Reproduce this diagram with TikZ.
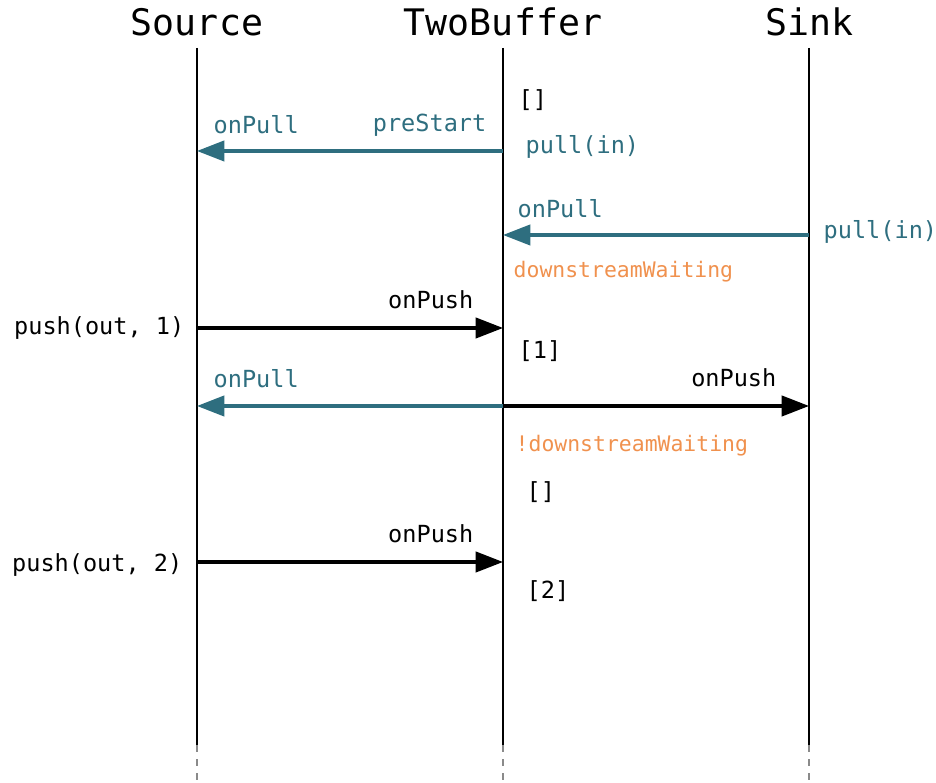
\documentclass[tikz,border=0pt]{standalone}
\usepackage{fontspec}
\setmainfont{DejaVu Sans Mono}
\usetikzlibrary{arrows.meta}
\definecolor{FlowTeal}{HTML}{2E6E7F}
\definecolor{FlowOrange}{HTML}{F0914E}
\definecolor{FlowGrey}{HTML}{8A8A8A}

\begin{document}
\begin{tikzpicture}[x=1cm,y=1cm,
  lifeline/.style={line width=.75pt},
  lifetail/.style={FlowGrey,line width=.75pt,dash pattern=on 2pt off 2pt},
  title/.style={inner sep=0pt,font=\fontsize{10.4}{12}\selectfont},
  lbl/.style={inner sep=0pt,font=\fontsize{6.7}{8}\selectfont},
  cond/.style={inner sep=0pt,text=FlowOrange,font=\fontsize{6.1}{7}\selectfont},
  msg/.style={line width=.9pt,-{Triangle[length=7.8pt,width=5.8pt]}},
  pullmsg/.style={msg,FlowTeal}]
\path[use as bounding box] (0,0) rectangle (9.36,7.83);
% lifelines
\node[title] (src) at (1.97,7.61) {Source};
\node[title] (buf) at (5.03,7.61) {TwoBuffer};
\node[title] (snk) at (8.09,7.61) {Sink};
\coordinate (srcTop) at (1.97,7.35);
\coordinate (bufTop) at (5.03,7.35);
\coordinate (snkTop) at (8.09,7.35);
\coordinate (srcEnd) at (1.97,0.38);
\coordinate (bufEnd) at (5.03,0.38);
\coordinate (snkEnd) at (8.09,0.38);
\coordinate (srcFoot) at (1.97,0);
\coordinate (bufFoot) at (5.03,0);
\coordinate (snkFoot) at (8.09,0);
\draw[lifeline] (srcTop) -- (srcEnd);
\draw[lifeline] (bufTop) -- (bufEnd);
\draw[lifeline] (snkTop) -- (snkEnd);
\draw[lifetail] (srcEnd) -- (srcFoot);
\draw[lifetail] (bufEnd) -- (bufFoot);
\draw[lifetail] (snkEnd) -- (snkFoot);
% message points on the lifelines
\coordinate (bufA) at (5.03,6.32);
\coordinate (srcA) at (1.97,6.32);
\coordinate (snkB) at (8.09,5.48);
\coordinate (bufB) at (5.03,5.48);
\coordinate (srcC) at (1.97,4.55);
\coordinate (bufC) at (5.03,4.55);
\coordinate (bufD) at (5.03,3.77);
\coordinate (srcD) at (1.97,3.77);
\coordinate (snkD) at (8.09,3.77);
\coordinate (srcE) at (1.97,2.21);
\coordinate (bufE) at (5.03,2.21);
% buffer start
\node[lbl,anchor=west] (empty1) at (5.18,6.83) {[]};
\node[lbl,anchor=west,text=FlowTeal] (onPullA) at (2.13,6.58) {onPull};
\node[lbl,anchor=east,text=FlowTeal] (preStart) at (4.87,6.58) {preStart};
\node[lbl,anchor=west,text=FlowTeal] (pullA) at (5.25,6.36) {pull(in)};
\draw[pullmsg] (bufA) -- (srcA);
% sink pulls
\node[lbl,anchor=west,text=FlowTeal] (onPullB) at (5.17,5.74) {onPull};
\node[lbl,anchor=west,text=FlowTeal] (pullB) at (8.23,5.51) {pull(in)};
\draw[pullmsg] (snkB) -- (bufB);
\node[cond,anchor=west] (waiting) at (5.13,5.11) {downstreamWaiting};
% first element
\node[lbl,anchor=east] (onPushC) at (4.74,4.83) {onPush};
\node[lbl,anchor=east] (pushOne) at (1.85,4.55) {push(out, 1)};
\draw[msg] (srcC) -- (bufC);
\node[lbl,anchor=west] (one) at (5.18,4.32) {[1]};
\node[lbl,anchor=west,text=FlowTeal] (onPullD) at (2.13,4.04) {onPull};
\node[lbl,anchor=east] (onPushD) at (7.77,4.05) {onPush};
\draw[pullmsg] (bufD) -- (srcD);
\draw[msg] (bufD) -- (snkD);
\node[cond,anchor=west] (notWaiting) at (5.15,3.37) {!downstreamWaiting};
\node[lbl,anchor=west] (empty2) at (5.26,2.91) {[]};
% second element
\node[lbl,anchor=east] (onPushE) at (4.74,2.49) {onPush};
\node[lbl,anchor=east] (pushTwo) at (1.83,2.18) {push(out, 2)};
\draw[msg] (srcE) -- (bufE);
\node[lbl,anchor=west] (two) at (5.26,1.92) {[2]};
\end{tikzpicture}
\end{document}
